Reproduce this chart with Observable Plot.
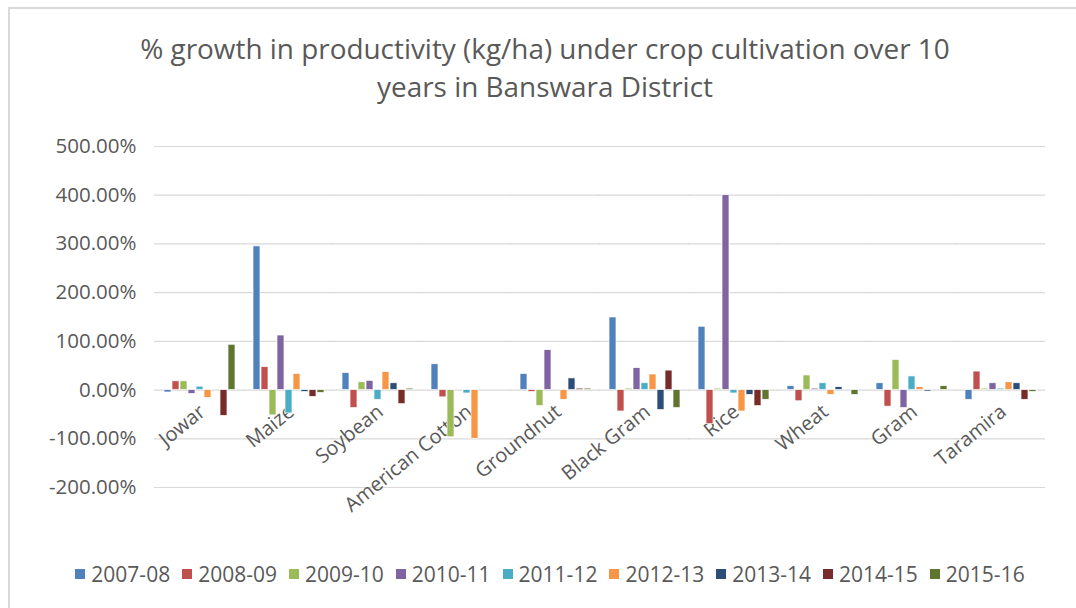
<!DOCTYPE html>
<html>
<head>
<meta charset="utf-8">
<script src="https://cdn.jsdelivr.net/npm/d3@7"></script>
<script src="https://cdn.jsdelivr.net/npm/@observablehq/plot@0.6"></script>
<style>
  html, body { margin: 0; padding: 0; background: #fff; }
  body { width: 1076px; height: 608px; overflow: hidden; position: relative; font-family: "Open Sans", sans-serif; color: #595959; }
  #frame { position: absolute; left: 8px; top: 7px; width: 1080px; height: 610px; border: 2px solid #d9d9d9; box-sizing: border-box; }
  #title { position: absolute; left: 0; width: 1090px; top: 29px; text-align: center; font-size: 27.9px; line-height: 38px; color: #595959; }
  #chart { position: absolute; left: 0; top: 120px; }
  #legend { position: absolute; left: 0; width: 1100px; top: 560px; display: flex; justify-content: center; font-size: 21px; color: #595959; }
  #legend .item { display: flex; align-items: center; margin: 0 6px; }
  #legend .sw { width: 10px; height: 10px; margin-right: 6px; }
</style>
</head>
<body>
<div id="frame"></div>
<div id="title">% growth in productivity (kg/ha) under crop cultivation over 10<br>years in Banswara District</div>
<div id="chart"></div>
<div id="legend"></div>
<script>
const crops = ["Jowar", "Maize", "Soybean", "American Cotton", "Groundnut", "Black Gram", "Rice", "Wheat", "Gram", "Taramira"];
const years = ["2007-08", "2008-09", "2009-10", "2010-11", "2011-12", "2012-13", "2013-14", "2014-15", "2015-16"];
const colors = ["#4F81BD", "#C0504D", "#9BBB59", "#8064A2", "#4BACC6", "#F79646", "#2C4D75", "#772C2A", "#5F7530"];
const yTicks = [-200, -100, 0, 100, 200, 300, 400, 500];

// % growth per year, one value per crop (same order as crops)
const v2007_08 = [-5, 295, 35, 53, 33, 149, 130, 8, 14, -20];
const v2008_09 = [18, 47, -37, -15, -4, -44, -70, -23, -34, 38];
const v2009_10 = [18, -52, 16, -97, -33, 3, 3, 30, 62, 3];
const v2010_11 = [-8, 112, 19, 0, 82, 45, 400, 3, -37, 14];
const v2011_12 = [7, -48, -20, -7, 0, 14, -7, 14, 28, 3];
const v2012_13 = [-16, 33, 37, -100, -20, 32, -44, -10, 6, 16];
const v2013_14 = [0, -4, 14, 0, 24, -41, -10, 6, -3, 14];
const v2014_15 = [-53, -14, -29, 0, 3, 40, -33, 0, 0, -20];
const v2015_16 = [93, -6, 3, 0, 3, -37, -20, -10, 8, -4];

const series = [v2007_08, v2008_09, v2009_10, v2010_11, v2011_12, v2012_13, v2013_14, v2014_15, v2015_16];
const data = [];
years.forEach((yr, i) => crops.forEach((c, j) => data.push({crop: c, year: yr, value: series[i][j]})));

const chart = Plot.plot({
  width: 1076,
  height: 420,
  marginTop: 26,
  marginBottom: 53,
  marginLeft: 155,
  marginRight: 31,
  style: {fontFamily: "'Open Sans', sans-serif", fontSize: "20.5px", color: "#595959", background: "transparent"},
  fx: {domain: crops, paddingInner: 0.1, paddingOuter: 0.05, axis: null, label: null},
  x: {domain: years, padding: 0.15, axis: null},
  y: {domain: [-200, 500], ticks: yTicks, tickFormat: d => d.toFixed(2) + "%", tickSize: 0, tickPadding: 23, label: null},
  color: {domain: years, range: colors},
  marks: [
    Plot.ruleY(yTicks, {stroke: "#d9d9d9", strokeWidth: 1.2, insetLeft: -5, insetRight: -5}),
    Plot.text(crops, {fx: d => d, y: 0, text: d => d, rotate: -39, textAnchor: "end", dx: 3, dy: 19, fontSize: 20, fill: "#595959"}),
    Plot.barY(data, {fx: "crop", x: "year", y: "value", fill: "year", stroke: "white", strokeWidth: 0.7})
  ]
});
document.getElementById("chart").appendChild(chart);

const legend = document.getElementById("legend");
years.forEach((yr, i) => {
  const item = document.createElement("div");
  item.className = "item";
  const sw = document.createElement("div");
  sw.className = "sw";
  sw.style.background = colors[i];
  item.appendChild(sw);
  const t = document.createElement("span");
  t.textContent = yr;
  item.appendChild(t);
  legend.appendChild(item);
});
</script>
</body>
</html>
